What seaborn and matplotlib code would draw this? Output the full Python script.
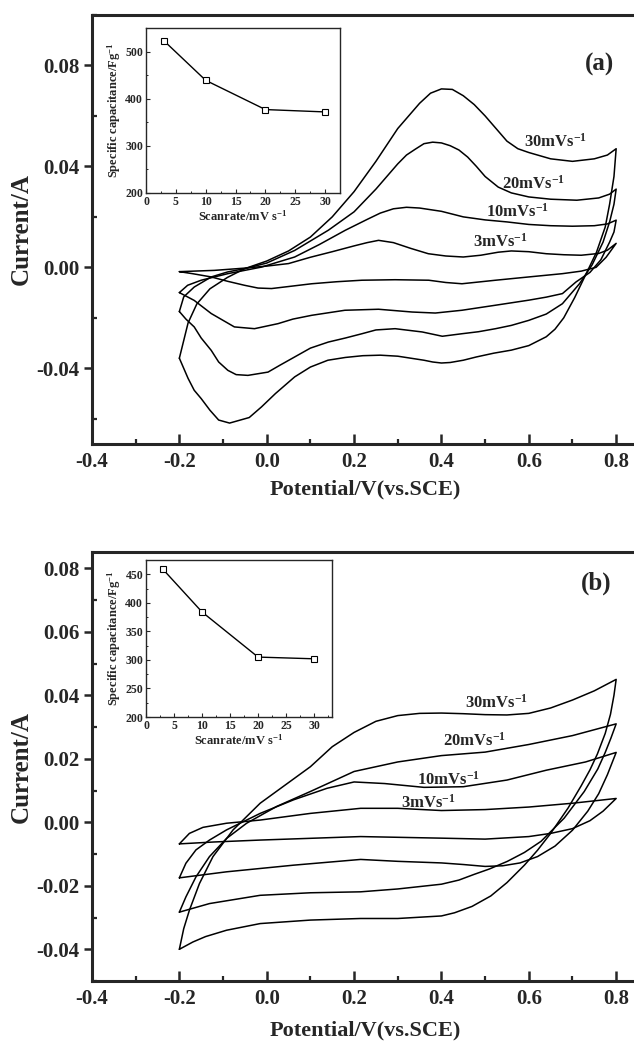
import matplotlib
matplotlib.use('Agg')
import matplotlib.pyplot as plt
import seaborn as sns
from matplotlib.ticker import MultipleLocator, FormatStrFormatter

# ---- panel (a): CV loops, forward (upper) and reverse (lower) branches ----
A30_UP_V = [-0.2, -0.19, -0.18, -0.16, -0.13, -0.09, -0.05, 0.0, 0.05, 0.1, 0.15, 0.2, 0.25, 0.3, 0.35,
            0.375, 0.4, 0.425, 0.45, 0.475, 0.5, 0.525, 0.55, 0.575, 0.6, 0.65, 0.7, 0.75, 0.78, 0.8]
A30_UP_I = [-0.036, -0.029, -0.022, -0.0145, -0.0085, -0.004, -0.0005, 0.0025, 0.0065, 0.012, 0.020, 0.030,
            0.042, 0.055, 0.065, 0.069, 0.0707, 0.0705, 0.068, 0.0645, 0.060, 0.055, 0.050, 0.047, 0.0455,
            0.043, 0.042, 0.043, 0.0445, 0.047]
A30_DN_V = [0.8, 0.795, 0.785, 0.775, 0.755, 0.73, 0.705, 0.68, 0.66, 0.64, 0.6, 0.56, 0.52, 0.48, 0.45,
            0.42, 0.4, 0.38, 0.36, 0.33, 0.3, 0.26, 0.22, 0.18, 0.14, 0.1, 0.064, 0.02, -0.012, -0.04,
            -0.085, -0.11, -0.13, -0.15, -0.166, -0.18, -0.19, -0.2]
A30_DN_I = [0.047, 0.036, 0.025, 0.016, 0.006, -0.003, -0.012, -0.020, -0.0245, -0.0275, -0.031, -0.0328,
            -0.034, -0.0355, -0.0368, -0.0377, -0.0379, -0.0375, -0.0368, -0.036, -0.0352, -0.0348, -0.035,
            -0.0357, -0.0368, -0.0395, -0.0434, -0.050, -0.0553, -0.0595, -0.0617, -0.0605, -0.0566, -0.052,
            -0.0487, -0.044, -0.040, -0.036]

A20_UP_V = [-0.2, -0.19, -0.166, -0.127, -0.089, -0.05, 0.0, 0.064, 0.141, 0.2, 0.25, 0.3, 0.32, 0.34,
            0.36, 0.38, 0.4, 0.42, 0.44, 0.46, 0.48, 0.5, 0.53, 0.56, 0.6, 0.65, 0.71, 0.76, 0.785, 0.8]
A20_UP_I = [-0.0175, -0.0117, -0.0078, -0.0038, -0.0018, -0.0005, 0.0017, 0.0067, 0.0147, 0.022, 0.031,
            0.041, 0.0445, 0.0468, 0.049, 0.0496, 0.0493, 0.0482, 0.0465, 0.0437, 0.040, 0.036, 0.0318,
            0.0295, 0.0279, 0.027, 0.0266, 0.0275, 0.029, 0.031]
A20_DN_V = [0.8, 0.795, 0.785, 0.77, 0.745, 0.716, 0.677, 0.64, 0.6, 0.56, 0.524, 0.485, 0.447, 0.402,
            0.356, 0.294, 0.25, 0.218, 0.18, 0.141, 0.1, 0.064, 0.03, 0.003, -0.043, -0.07, -0.089, -0.11,
            -0.127, -0.15, -0.166, -0.185, -0.2]
A20_DN_I = [0.031, 0.025, 0.018, 0.010, 0.001, -0.0065, -0.0144, -0.0185, -0.021, -0.023, -0.0243,
            -0.0255, -0.0263, -0.0273, -0.0256, -0.0243, -0.0248, -0.0263, -0.028, -0.0296, -0.032, -0.0355,
            -0.0388, -0.0415, -0.0428, -0.0425, -0.0408, -0.0375, -0.0329, -0.028, -0.0236, -0.0205, -0.0175]

A10_UP_V = [-0.2, -0.181, -0.15, -0.089, -0.012, 0.064, 0.12, 0.18, 0.23, 0.26, 0.29, 0.32, 0.35, 0.4,
            0.45, 0.5, 0.55, 0.6, 0.65, 0.7, 0.75, 0.78, 0.8]
A10_UP_I = [-0.010, -0.0071, -0.0051, -0.0025, 0.0001, 0.0041, 0.009, 0.0147, 0.019, 0.0215, 0.0232,
            0.0238, 0.0235, 0.0222, 0.020, 0.0188, 0.018, 0.017, 0.0165, 0.0163, 0.0165, 0.0172, 0.0187]
A10_DN_V = [0.8, 0.795, 0.785, 0.765, 0.74, 0.708, 0.677, 0.64, 0.6, 0.524, 0.447, 0.386, 0.333, 0.256,
            0.179, 0.103, 0.06, 0.026, -0.028, -0.074, -0.1, -0.127, -0.166, -0.2]
A10_DN_I = [0.0187, 0.014, 0.010, 0.003, -0.002, -0.0058, -0.0104, -0.0118, -0.013, -0.015, -0.017,
            -0.0181, -0.0177, -0.0166, -0.017, -0.019, -0.0205, -0.0223, -0.0243, -0.0236, -0.021, -0.0183,
            -0.0131, -0.010]

A3_UP_V = [-0.2, -0.12, -0.05, 0.0, 0.05, 0.1, 0.15, 0.2, 0.23, 0.256, 0.29, 0.33, 0.37, 0.41, 0.45,
           0.49, 0.53, 0.56, 0.6, 0.64, 0.68, 0.72, 0.76, 0.78, 0.8]
A3_UP_I = [-0.0017, -0.0012, -0.0003, 0.0005, 0.0015, 0.004, 0.0062, 0.0085, 0.0098, 0.0107, 0.0098,
           0.0075, 0.0054, 0.0045, 0.0041, 0.0048, 0.006, 0.0065, 0.0062, 0.0054, 0.005, 0.0048, 0.0055,
           0.0068, 0.0095]
A3_DN_V = [0.8, 0.777, 0.754, 0.72, 0.677, 0.6, 0.524, 0.447, 0.41, 0.371, 0.294, 0.218, 0.16, 0.103,
           0.05, 0.011, -0.02, -0.051, -0.09, -0.127, -0.17, -0.2]
A3_DN_I = [0.0095, 0.004, 0.0, -0.0015, -0.0025, -0.0038, -0.0051, -0.0065, -0.006, -0.0051, -0.0049,
           -0.0051, -0.0057, -0.0065, -0.0076, -0.0084, -0.0082, -0.0071, -0.0055, -0.0038, -0.0025, -0.0017]

# ---- panel (b) ----
B30_UP_V = [-0.2, -0.19, -0.177, -0.154, -0.123, -0.077, -0.015, 0.05, 0.1, 0.15, 0.2, 0.25, 0.3, 0.35,
            0.4, 0.45, 0.5, 0.55, 0.6, 0.65, 0.7, 0.75, 0.8]
B30_UP_I = [-0.040, -0.0335, -0.0277, -0.0193, -0.0108, -0.0024, 0.006, 0.0125, 0.0175, 0.0238, 0.0283,
            0.0318, 0.0336, 0.0343, 0.0344, 0.0342, 0.0339, 0.0338, 0.0343, 0.036, 0.0385, 0.0414, 0.045]
B30_DN_V = [0.8, 0.795, 0.787, 0.775, 0.757, 0.74, 0.72, 0.69, 0.65, 0.62, 0.59, 0.55, 0.513, 0.47,
            0.43, 0.4, 0.3, 0.215, 0.1, -0.015, -0.092, -0.14, -0.169, -0.2]
B30_DN_I = [0.045, 0.040, 0.034, 0.028, 0.0215, 0.0165, 0.0115, 0.0045, -0.0035, -0.0088, -0.0135,
            -0.019, -0.0232, -0.0265, -0.0285, -0.0295, -0.0303, -0.0303, -0.0308, -0.0319, -0.034, -0.036,
            -0.0377, -0.040]

B20_UP_V = [-0.2, -0.185, -0.162, -0.131, -0.092, -0.046, 0.023, 0.1, 0.2, 0.3, 0.4, 0.5, 0.6, 0.7, 0.8]
B20_UP_I = [-0.0283, -0.0235, -0.0172, -0.0108, -0.0051, -0.0003, 0.005, 0.0097, 0.016, 0.019, 0.021,
            0.0221, 0.0245, 0.0273, 0.031]
B20_DN_V = [0.8, 0.788, 0.775, 0.758, 0.727, 0.681, 0.628, 0.59, 0.551, 0.51, 0.475, 0.44, 0.4, 0.3,
            0.215, 0.1, -0.015, -0.131, -0.2]
B20_DN_I = [0.031, 0.0265, 0.022, 0.0168, 0.0097, 0.0013, -0.006, -0.0095, -0.0123, -0.0147, -0.0164,
            -0.0182, -0.0195, -0.021, -0.0219, -0.0222, -0.023, -0.0256, -0.0283]

B10_UP_V = [-0.2, -0.185, -0.162, -0.131, -0.092, -0.015, 0.062, 0.138, 0.2, 0.27, 0.36, 0.45, 0.55,
            0.64, 0.73, 0.8]
B10_UP_I = [-0.0175, -0.0129, -0.0087, -0.0056, -0.0024, 0.0028, 0.0071, 0.0107, 0.0127, 0.0122, 0.011,
            0.0112, 0.0133, 0.0164, 0.019, 0.022]
B10_DN_V = [0.8, 0.78, 0.76, 0.735, 0.7, 0.66, 0.62, 0.58, 0.54, 0.5, 0.45, 0.4, 0.3, 0.215, 0.062,
            -0.092, -0.2]
B10_DN_I = [0.022, 0.015, 0.009, 0.0035, -0.0025, -0.0075, -0.0108, -0.0128, -0.0137, -0.0139, -0.0133,
            -0.0128, -0.0123, -0.0117, -0.0135, -0.0156, -0.0175]

B3_UP_V = [-0.2, -0.177, -0.146, -0.092, -0.015, 0.1, 0.215, 0.3, 0.4, 0.5, 0.6, 0.7, 0.8]
B3_UP_I = [-0.0068, -0.0035, -0.0016, -0.0003, 0.0007, 0.0028, 0.0044, 0.0044, 0.0037, 0.004, 0.0048,
           0.006, 0.0075]
B3_DN_V = [0.8, 0.77, 0.74, 0.7, 0.65, 0.6, 0.5, 0.4, 0.215, -0.015, -0.12, -0.2]
B3_DN_I = [0.0075, 0.0035, 0.0005, -0.002, -0.0035, -0.0045, -0.0053, -0.005, -0.0045, -0.0056, -0.0062,
           -0.0068]

# ---- insets: specific capacitance vs scan rate ----
SCAN_RATE = [3, 10, 20, 30]
CAP_A = [523, 439, 377, 372]
CAP_B = [459, 384, 305, 302]

RATE_LABELS = ['3', '10', '20', '30']
LABEL_POS_A = [(0.535, 0.0100), (0.575, 0.0219), (0.61, 0.0331), (0.66, 0.0496)]
LABEL_POS_B = [(0.37, 0.0062), (0.415, 0.0135), (0.475, 0.0258), (0.525, 0.0375)]

sns.set_theme(style='ticks')
plt.rcParams['font.family'] = ['Liberation Serif', 'DejaVu Serif']
plt.rcParams['font.weight'] = 'bold'
plt.rcParams['axes.labelweight'] = 'bold'
plt.rcParams['axes.unicode_minus'] = False
plt.rcParams['mathtext.fontset'] = 'custom'
plt.rcParams['mathtext.rm'] = 'Liberation Serif:bold'
plt.rcParams['mathtext.it'] = 'Liberation Serif:bold'
plt.rcParams['mathtext.bf'] = 'Liberation Serif:bold'


def draw_loop(ax, up_v, up_i, dn_v, dn_i):
  v = list(up_v) + list(dn_v[1:])
  i = list(up_i) + list(dn_i[1:])
  sns.lineplot(x=v, y=i, sort=False, estimator=None, color='black', lw=1.1, ax=ax)


def style_main(ax, ylim, ymajor, yminor):
  ax.set_xlim(-0.4, 0.85)
  ax.set_ylim(*ylim)
  ax.xaxis.set_major_locator(MultipleLocator(0.2))
  ax.xaxis.set_minor_locator(MultipleLocator(0.1))
  ax.yaxis.set_major_locator(MultipleLocator(ymajor))
  ax.yaxis.set_minor_locator(MultipleLocator(yminor))
  ax.xaxis.set_major_formatter(FormatStrFormatter('%.1f'))
  ax.yaxis.set_major_formatter(FormatStrFormatter('%.2f'))
  ax.tick_params(axis='x', which='major', direction='in', length=7, width=1.8, labelsize=15, pad=6)
  ax.tick_params(axis='x', which='minor', direction='in', length=3.5, width=1.6)
  ax.tick_params(axis='y', which='major', direction='out', length=6, width=1.8, labelsize=15, pad=3)
  ax.tick_params(axis='y', which='minor', direction='in', length=3.5, width=1.6)
  for s in ax.spines.values():
    s.set_linewidth(2.2)
  ax.spines['right'].set_visible(False)
  ax.set_ylabel('Current/A', fontsize=18)
  ax.yaxis.set_label_coords(-0.108, 0.5)


def style_inset(ax, cap, ylim, ymajor, yminor, xmax):
  sns.lineplot(x=SCAN_RATE, y=cap, color='black', lw=1.0, marker='s', markersize=4.5,
               markerfacecolor='white', markeredgecolor='black', markeredgewidth=0.8, ax=ax)
  ax.set_xlim(0, xmax)
  ax.set_ylim(*ylim)
  ax.xaxis.set_major_locator(MultipleLocator(5))
  ax.xaxis.set_minor_locator(MultipleLocator(2.5))
  ax.yaxis.set_major_locator(MultipleLocator(ymajor))
  ax.yaxis.set_minor_locator(MultipleLocator(yminor))
  ax.tick_params(which='major', direction='in', length=3, width=0.8, labelsize=8.5, pad=2)
  ax.tick_params(which='minor', direction='in', length=1.5, width=0.7)
  for s in ax.spines.values():
    s.set_linewidth(1.0)
  ax.set_xlabel('Scanrate/mV s$^{-1}$', fontsize=9, labelpad=1)
  ax.set_ylabel('Specific capacitance/Fg$^{-1}$', fontsize=9, labelpad=2)


fig = plt.figure(figsize=(6.34, 10.46), dpi=100)

# panel (a)
ax_a = fig.add_axes([0.1451, 0.5755, 0.8612, 0.4102])
draw_loop(ax_a, A3_UP_V, A3_UP_I, A3_DN_V, A3_DN_I)
draw_loop(ax_a, A10_UP_V, A10_UP_I, A10_DN_V, A10_DN_I)
draw_loop(ax_a, A20_UP_V, A20_UP_I, A20_DN_V, A20_DN_I)
draw_loop(ax_a, A30_UP_V, A30_UP_I, A30_DN_V, A30_DN_I)
style_main(ax_a, (-0.07, 0.10), 0.04, 0.02)
ax_a.set_xlabel('Potential/V(vs.SCE)', fontsize=16)
ax_a.xaxis.set_label_coords(0.5, -0.082)
for lab, (x, y) in zip(RATE_LABELS, LABEL_POS_A):
  ax_a.text(x, y, lab + 'mVs$^{-1}$', fontsize=12, ha='center', va='center')
ax_a.text(0.762, 0.0805, '(a)', fontsize=18, ha='center', va='center')

ins_a = fig.add_axes([0.2303, 0.8155, 0.306, 0.1577])
style_inset(ins_a, CAP_A, (200, 550), 100, 50, 32.5)

# panel (b)
ax_b = fig.add_axes([0.1451, 0.0621, 0.8612, 0.4098])
draw_loop(ax_b, B3_UP_V, B3_UP_I, B3_DN_V, B3_DN_I)
draw_loop(ax_b, B10_UP_V, B10_UP_I, B10_DN_V, B10_DN_I)
draw_loop(ax_b, B20_UP_V, B20_UP_I, B20_DN_V, B20_DN_I)
draw_loop(ax_b, B30_UP_V, B30_UP_I, B30_DN_V, B30_DN_I)
style_main(ax_b, (-0.05, 0.085), 0.02, 0.01)
ax_b.set_xlabel('Potential/V(vs.SCE)', fontsize=16)
ax_b.xaxis.set_label_coords(0.5, -0.093)
for lab, (x, y) in zip(RATE_LABELS, LABEL_POS_B):
  ax_b.text(x, y, lab + 'mVs$^{-1}$', fontsize=12, ha='center', va='center')
ax_b.text(0.755, 0.0753, '(b)', fontsize=18, ha='center', va='center')

ins_b = fig.add_axes([0.2303, 0.3145, 0.2934, 0.1501])
style_inset(ins_b, CAP_B, (200, 475), 50, 25, 33.2)

fig.savefig('out.png', dpi=100)
